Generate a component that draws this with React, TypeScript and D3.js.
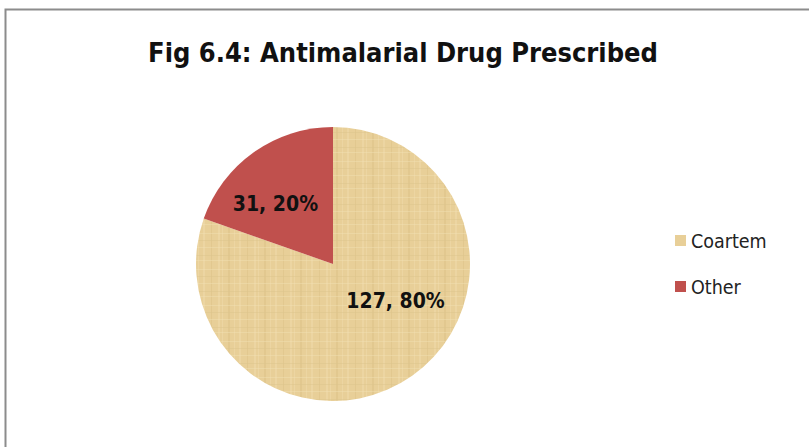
import React, { useEffect, useRef } from "react";
import * as d3 from "d3";

const categories = ["Coartem", "Other"];
const counts = [127, 31];
const percents = ["80%", "20%"];
const colors = ["#e8cf98", "#c0504d"];
const title = "Fig 6.4: Antimalarial Drug Prescribed";

export default function App() {
  const ref = useRef<SVGSVGElement | null>(null);
  useEffect(() => {
    const svg = d3.select(ref.current);
    svg.selectAll("*").remove();
    const W = 809, H = 447;
    const font = "'Liberation Sans Narrow', 'DejaVu Sans Condensed', sans-serif";

    const defs = svg.append("defs");
    const pat = defs.append("pattern").attr("id", "papyrus").attr("patternUnits", "userSpaceOnUse")
      .attr("width", 36).attr("height", 36);
    pat.append("rect").attr("width", 36).attr("height", 36).attr("fill", colors[0]);
    const vx = [3, 9, 14, 22, 29, 33];
    vx.forEach((x, i) => pat.append("rect").attr("x", x).attr("y", 0).attr("width", i % 2 ? 1 : 2).attr("height", 36)
      .attr("fill", i % 3 === 0 ? "#dcc185" : "#f0dcab").attr("opacity", 0.5));
    const hy = [5, 12, 19, 27, 32];
    hy.forEach((y, i) => pat.append("rect").attr("x", 0).attr("y", y).attr("width", 36).attr("height", 1)
      .attr("fill", i % 2 ? "#ddc38b" : "#f2e0b4").attr("opacity", 0.45));

    svg.append("rect").attr("x", 0).attr("y", 0).attr("width", W).attr("height", H).attr("fill", "#fff");
    svg.append("rect").attr("x", 5.5).attr("y", 9.5).attr("width", 900).attr("height", 600)
      .attr("fill", "none").attr("stroke", "#8c8c8c").attr("stroke-width", 2);

    svg.append("text").attr("x", 403).attr("y", 62).attr("text-anchor", "middle")
      .attr("font-family", font).attr("font-weight", "bold").attr("font-size", 27).attr("fill", "#111")
      .text(title);

    const cx = 333, cy = 264, r = 137;
    const pie = d3.pie<number>().sort(null).value(d => d);
    const arcs = pie(counts);
    const arc = d3.arc<d3.PieArcDatum<number>>().innerRadius(0).outerRadius(r);
    const g = svg.append("g").attr("transform", `translate(${cx},${cy})`);
    g.selectAll("path").data(arcs).join("path")
      .attr("d", arc as any)
      .attr("fill", (_d, i) => (i === 0 ? "url(#papyrus)" : colors[i]));

    const labelArc = d3.arc<d3.PieArcDatum<number>>().innerRadius(r * 0.55).outerRadius(r * 0.55);
    const offsets = [[19, -25], [-14, 1]];
    g.selectAll("text.lbl").data(arcs).join("text").attr("class", "lbl")
      .attr("transform", (d, i) => {
        const [x, y] = labelArc.centroid(d);
        return `translate(${x + offsets[i][0]},${y + offsets[i][1]})`;
      })
      .attr("text-anchor", "middle").attr("dy", "0.35em")
      .attr("font-family", font).attr("font-weight", "bold").attr("font-size", 21).attr("fill", "#111")
      .text((d, i) => `${counts[i]}, ${percents[i]}`);

    const leg = svg.append("g");
    categories.forEach((c, i) => {
      const y = 241 + i * 46;
      leg.append("rect").attr("x", 675).attr("y", y - 6).attr("width", 11).attr("height", 11).attr("fill", colors[i]);
      leg.append("text").attr("x", 691).attr("y", y).attr("dy", "0.36em")
        .attr("font-family", font).attr("font-size", 19.5).attr("fill", "#222").text(c);
    });
  }, []);
  return (
    <svg ref={ref} width={809} height={447} style={{ position: "absolute", left: 0, top: 0 }} />
  );
}
